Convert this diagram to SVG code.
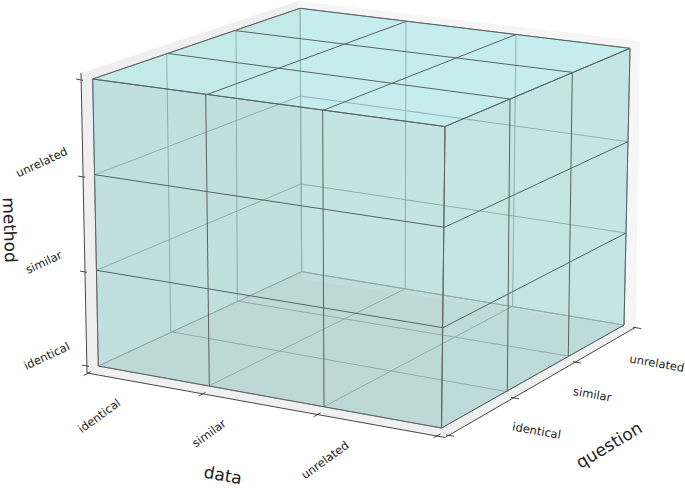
<svg xmlns="http://www.w3.org/2000/svg" width="685" height="488" viewBox="0 0 685 488">
<style>
.bf{stroke:#8f9a9a;stroke-width:1;stroke-linejoin:round}
.ff{stroke:#5a6262;stroke-width:1;stroke-linejoin:round}
.bl{stroke:#8f9a9a;stroke-width:1;fill:none}
.fl{stroke:#5a6262;stroke-width:1;fill:none}
.ax{stroke:#333;stroke-width:0.9;fill:none}
.tk{stroke:#333;stroke-width:0.9}
.tl{font-family:"DejaVu Sans",sans-serif;font-size:11.5px;fill:#222;text-anchor:middle;dominant-baseline:central}
.al{font-family:"DejaVu Sans",sans-serif;font-size:17px;fill:#222;text-anchor:middle;dominant-baseline:central}
</style>
<rect width="685" height="488" fill="#ffffff"/>
<g id="panes">
<polygon points="87,373 445,437.5 636,327 301,279" fill="#f0f0f0"/>
<polygon points="301,279 636,327 640,41 298,1" fill="#f6f6f6"/>
<polygon points="87,373 81,73 298,1 301,279" fill="#efefef"/>
</g>
<g id="back-faces">
<polygon id="face-bottom" class="bf" points="98.3,366 441.5,428 624,325 301.7,271.7" fill="rgb(135,176,176)" fill-opacity="0.3"/>
<polygon id="face-back" class="bf" points="301.7,271.7 624,325 630,48.3 300,8.3" fill="rgb(150,210,210)" fill-opacity="0.3"/>
<polygon id="face-left" class="bf" points="98.3,366 301.7,271.7 300,8.3 92.7,79" fill="rgb(150,210,210)" fill-opacity="0.3"/>
<g id="back-grid">
<line class="bl" x1="209.3" y1="385.7" x2="405.2" y2="288.8"/>
<line class="bl" x1="324" y1="406.7" x2="512.6" y2="306.3"/>
<line class="bl" x1="170.7" y1="331.7" x2="507.3" y2="391.7"/>
<line class="bl" x1="237.3" y1="301" x2="568.3" y2="356"/>
<line class="bl" x1="406" y1="21.5" x2="405.2" y2="288.8"/>
<line class="bl" x1="516" y1="34.5" x2="512.6" y2="306.3"/>
<line class="bl" x1="300.6" y1="96" x2="628" y2="141.7"/>
<line class="bl" x1="301.1" y1="184" x2="626" y2="233"/>
<line class="bl" x1="166.7" y1="53.3" x2="170.7" y2="331.7"/>
<line class="bl" x1="236" y1="30.7" x2="237.3" y2="301"/>
<line class="bl" x1="94.6" y1="174.7" x2="300.6" y2="96"/>
<line class="bl" x1="96.5" y1="270.3" x2="301.1" y2="184"/>
</g>
</g>
<g id="front-faces">
<polygon id="face-front" class="ff" points="98.3,366 441.5,428 445,126.5 92.7,79" fill="rgb(150,208,208)" fill-opacity="0.3"/>
<polygon id="face-right" class="ff" points="441.5,428 624,325 630,48.3 445,126.5" fill="rgb(153,215,215)" fill-opacity="0.3"/>
<polygon id="face-top" class="ff" points="92.7,79 445,126.5 630,48.3 300,8.3" fill="rgb(157,241,241)" fill-opacity="0.3"/>
<g id="front-grid">
<line class="fl" x1="205.7" y1="95" x2="209.3" y2="385.7"/>
<line class="fl" x1="322.7" y1="110.5" x2="324" y2="406.7"/>
<line class="fl" x1="94.6" y1="174.7" x2="444.5" y2="227.3"/>
<line class="fl" x1="96.5" y1="270.3" x2="443" y2="327.7"/>
<line class="fl" x1="510" y1="99" x2="507.3" y2="391.7"/>
<line class="fl" x1="572.3" y1="72.3" x2="568.3" y2="356"/>
<line class="fl" x1="444.5" y1="227.3" x2="628" y2="141.7"/>
<line class="fl" x1="443" y1="327.7" x2="626" y2="233"/>
<line class="fl" x1="205.7" y1="95" x2="406" y2="21.5"/>
<line class="fl" x1="322.7" y1="110.5" x2="516" y2="34.5"/>
<line class="fl" x1="166.7" y1="53.3" x2="510" y2="99"/>
<line class="fl" x1="236" y1="30.7" x2="572.3" y2="72.3"/>
</g>
</g>
<g id="axes">
<polyline class="ax" points="81,73 87,373 445,437.5 636,327"/>
<line class="tk" x1="76.1" y1="79.1" x2="83.1" y2="80.3"/>
<line class="tk" x1="78.1" y1="176.1" x2="85.1" y2="177.3"/>
<line class="tk" x1="80" y1="271.1" x2="87" y2="272.3"/>
<line class="tk" x1="81.9" y1="365.1" x2="88.9" y2="366.3"/>
<line class="tk" x1="83.6" y1="375.6" x2="90.6" y2="371.8"/>
<line class="tk" x1="198.6" y1="396.1" x2="205.6" y2="392.3"/>
<line class="tk" x1="313.6" y1="416.7" x2="320.6" y2="412.9"/>
<line class="tk" x1="433.6" y1="437.7" x2="440.6" y2="433.9"/>
<line class="tk" x1="446" y1="434.9" x2="454" y2="436.3"/>
<line class="tk" x1="511" y1="397.4" x2="519" y2="398.8"/>
<line class="tk" x1="573" y1="361.7" x2="581" y2="363.1"/>
<line class="tk" x1="633" y1="327.2" x2="641" y2="328.6"/>
</g>
<g id="labels">
<text class="tl" transform="translate(41.7,162.3) rotate(-25)">unrelated</text>
<text class="tl" transform="translate(43.7,262.3) rotate(-25)">similar</text>
<text class="tl" transform="translate(46.7,356) rotate(-25)">identical</text>
<text class="tl" transform="translate(99.2,415.8) rotate(-36)">identical</text>
<text class="tl" transform="translate(209,433.3) rotate(-36)">similar</text>
<text class="tl" transform="translate(325,460) rotate(-36)">unrelated</text>
<text class="tl" transform="translate(536.7,430.7) rotate(10)">identical</text>
<text class="tl" transform="translate(592.3,394.3) rotate(10)">similar</text>
<text class="tl" transform="translate(657,363.3) rotate(10)">unrelated</text>
<text class="al" transform="translate(10,230) rotate(88)">method</text>
<text class="al" transform="translate(223,475) rotate(10)">data</text>
<text class="al" transform="translate(609,445) rotate(-31)">question</text>
</g>
</svg>
